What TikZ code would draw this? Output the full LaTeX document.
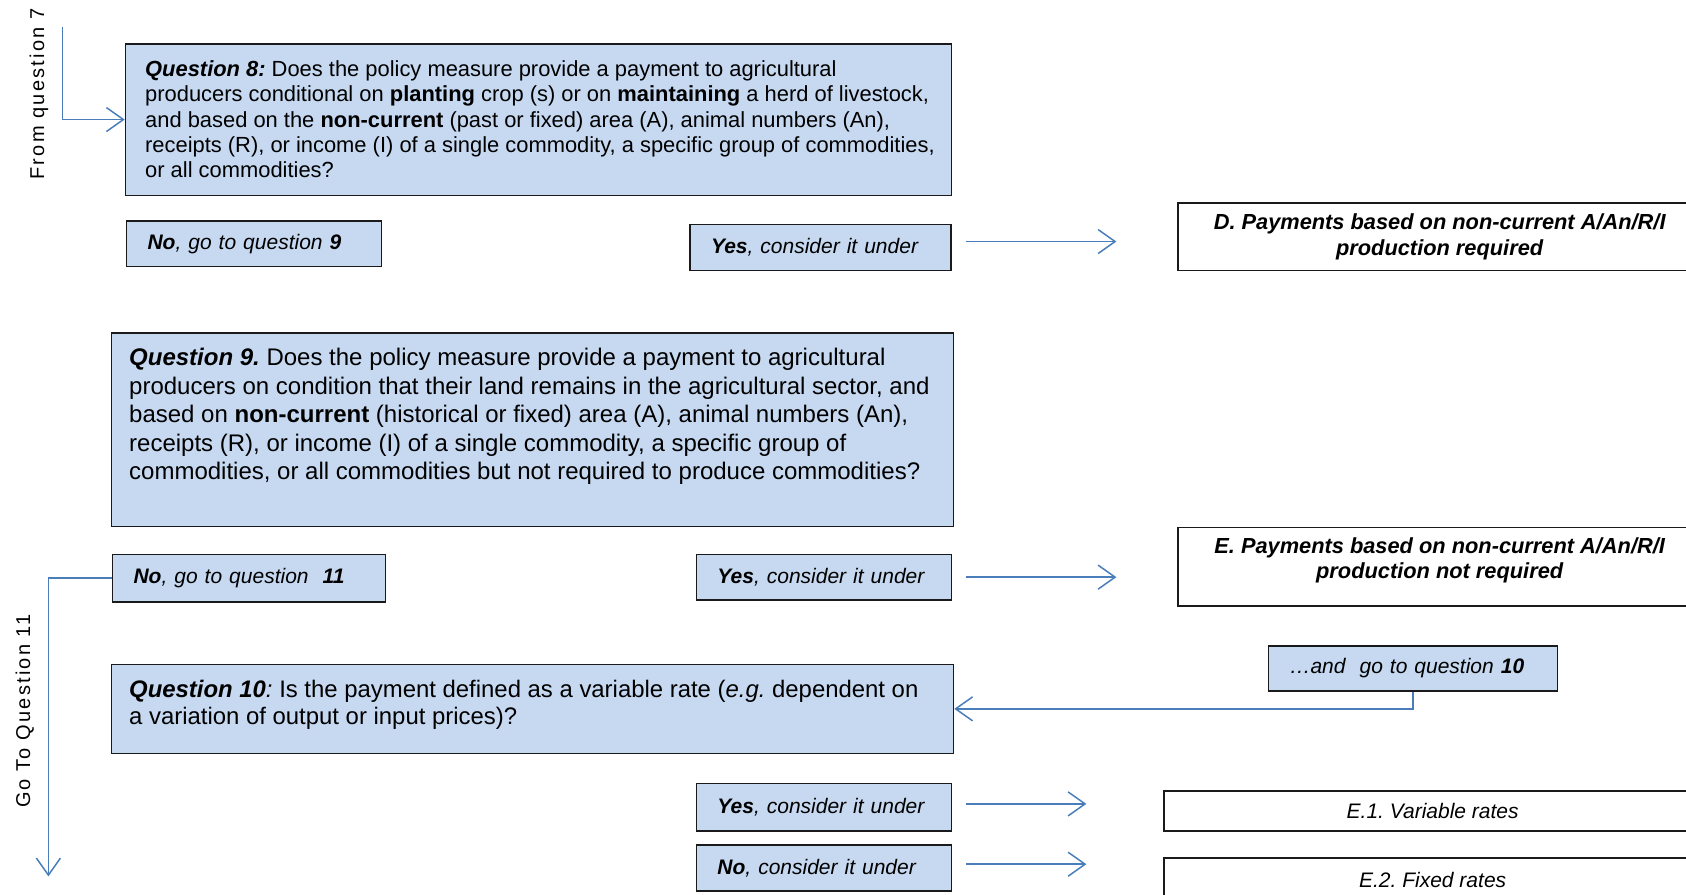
\documentclass[tikz,border=0pt]{standalone}
\usepackage{fontspec}
\setmainfont{Liberation Sans}
\usetikzlibrary{arrows.meta,calc}
\definecolor{boxblue}{HTML}{C6D9F1}
\definecolor{arrblue}{HTML}{4A7EBB}
\definecolor{edge}{HTML}{1A1A1A}
\frenchspacing
\begin{document}
\begin{tikzpicture}[x=1pt,y=-1pt,
  qbox/.style={draw=edge,line width=1.5pt,fill=boxblue,inner sep=0pt,anchor=north west},
  qtext/.style={inner sep=0pt,anchor=north west,align=left},
  sbox/.style={draw=edge,line width=1.5pt,fill=boxblue,inner xsep=21pt,inner ysep=0pt,anchor=north west,align=left,font=\fontsize{21}{25}\selectfont\itshape},
  wbox/.style={draw=edge,line width=1.5pt,fill=white,inner sep=0pt,anchor=north west,align=center,font=\fontsize{21.8}{25.8}\selectfont\bfseries\itshape},
  wtext/.style={inner sep=0pt,align=center,font=\fontsize{21.8}{25.8}\selectfont\bfseries\itshape},
  conn/.style={draw=arrblue,line width=1.5pt,-{Straight Barb[length=17pt,width=24pt,line width=1.5pt]}},
  side/.style={inner sep=0pt,rotate=90,font=\fontsize{20}{24}\selectfont\addfontfeatures{LetterSpace=11}}
]
\useasboundingbox (0,0) rectangle (1686,894);

% Question 8
\node[qbox,minimum width=826pt,minimum height=151.6pt] (q8) at (124.7,43) {};
\node[qtext,font=\fontsize{21.9}{25.3}\selectfont] (q8t) at (145,60.5) {\textbf{\textit{Question 8:}} Does the policy measure provide a payment to agricultural\\
producers conditional on \textbf{planting} crop (s) or on \textbf{maintaining} a herd of livestock,\\
and based on the \textbf{non-current} (past or fixed) area (A), animal numbers (An),\\
receipts (R), or income (I) of a single commodity, a specific group of commodities,\\
or all commodities?};

\node[sbox,text width=213pt,minimum height=45.2pt] (no9) at (125.8,220.4) {\textbf{No}, go to question \textbf{9}};
\node[sbox,text width=219pt,minimum height=46.2pt] (yes1) at (689.3,223.7) {\textbf{Yes}, consider it under};
\node[wbox,minimum width=523pt,minimum height=67.7pt] (d) at (1177.4,202.2) {D. Payments based on non-current A/An/R/I\\production required};

% Question 9
\node[qbox,minimum width=842pt,minimum height=193.5pt] (q9) at (110.8,332.3) {};
\node[qtext,font=\fontsize{24}{28.5}\selectfont] (q9t) at (129,348.3) {\textbf{\textit{Question 9.}} Does the policy measure provide a payment to agricultural\\
producers on condition that their land remains in the agricultural sector, and\\
based on \textbf{non-current} (historical or fixed) area (A), animal numbers (An),\\
receipts (R), or income (I) of a single commodity, a specific group of\\
commodities, or all commodities but not required to produce commodities?};

\node[sbox,text width=231pt,minimum height=47.3pt] (no11) at (111.8,553.8) {\textbf{No}, go to question\ \ \textbf{11}};
\node[sbox,text width=213pt,minimum height=45.2pt] (yes2) at (695.7,553.8) {\textbf{Yes}, consider it under};
\node[wbox,minimum width=523pt,minimum height=78.5pt] (e) at (1177.4,526.9) {};
\node[wtext] (et) at ([yshift=6.5pt]e.center) {E. Payments based on non-current A/An/R/I\\production not required};

% Question 10
\node[qbox,minimum width=842pt,minimum height=89.2pt] (q10) at (110.8,663.5) {};
\node[qtext,font=\fontsize{23.9}{27}\selectfont] (q10t) at (129,680.2) {\textbf{\textit{Question 10}}\textit{:} Is the payment defined as a variable rate (\textit{e.g.} dependent on\\
a variation of output or input prices)?};

\node[sbox,text width=247pt,minimum height=45.1pt] (and10) at (1267.8,645.2) {\dots and\ \ go to question \textbf{10}};

\node[sbox,text width=213pt,minimum height=47.3pt] (yes3) at (695.7,782.8) {\textbf{Yes}, consider it under};
\node[wbox,minimum width=537pt,minimum height=39.8pt,font=\fontsize{21}{25}\selectfont\itshape] (e1) at (1163.4,790.3) {E.1. Variable rates};
\node[sbox,text width=213pt,minimum height=46.3pt] (no3) at (695.7,844.1) {\textbf{No}, consider it under};
\node[wbox,minimum width=537pt,minimum height=45.2pt,font=\fontsize{21}{25}\selectfont\itshape] (e2) at (1163.4,857) {E.2. Fixed rates};

% side labels
\node[side] (from7) at (39,94) {From question 7};
\node[side] (goto11) at (24.7,711) {Go To Question 11};

% connectors
\coordinate (fq7) at (62.4,26.9);
\draw[conn] (fq7) |- (q8.west);
\draw[conn,shorten <=14pt,shorten >=61pt] ([yshift=6pt]yes1.east) -- ([yshift=6pt]yes1.east -| d.west);
\draw[conn,shorten <=14pt,shorten >=61pt] (yes2.east) -- (yes2.east -| e.west);
\coordinate (g11) at (48.4,876.4);
\draw[conn] (no11.west) -| (g11);
\draw[conn] (and10.south) |- (q10.east);
\draw[conn,shorten <=14pt,shorten >=77pt] ([yshift=3.3pt]yes3.east) -- ([yshift=3.3pt]yes3.east -| e1.west);
\draw[conn,shorten <=14pt,shorten >=77pt] ([yshift=3.8pt]no3.east) -- ([yshift=3.8pt]no3.east -| e2.west);
\end{tikzpicture}
\end{document}
